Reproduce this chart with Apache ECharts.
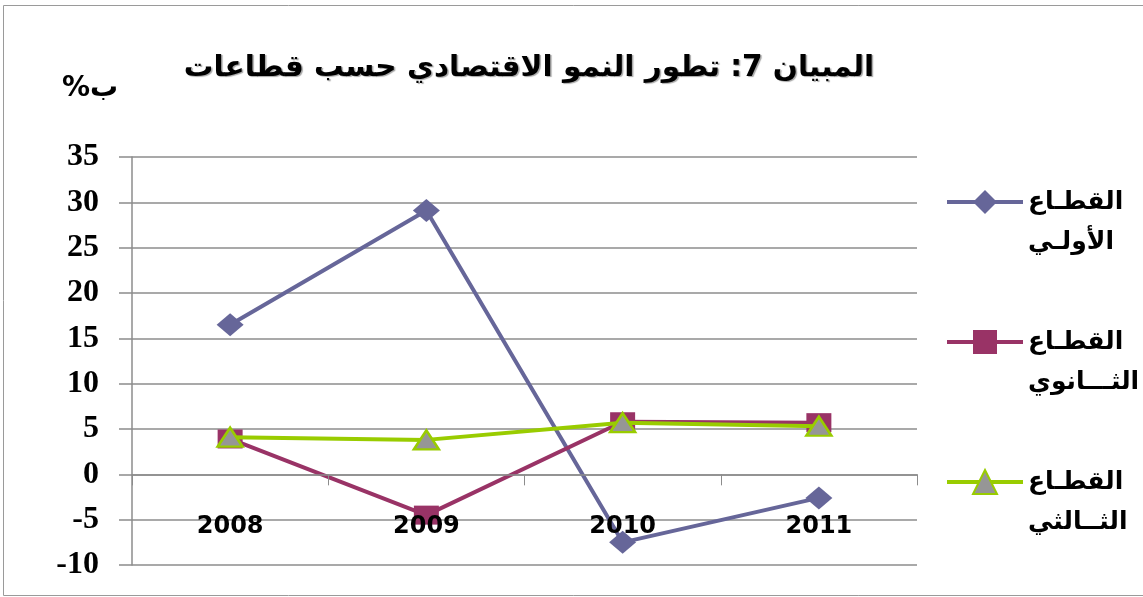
<!DOCTYPE html>
<html>
<head>
<meta charset="utf-8">
<script src="https://cdn.jsdelivr.net/npm/echarts@6/dist/echarts.min.js"></script>
<style>
html,body{margin:0;padding:0;background:#fff;}
#chart{width:1143px;height:597px;}
</style>
</head>
<body>
<div id="chart"></div>
<script>
const titleText = 'المبيان 7: تطور النمو الاقتصادي حسب قطاعات';
const yUnit = '%ب';
const categories = ['2008', '2009', '2010', '2011'];
const seriesNames = ['القطـاع الأولـي', 'القطـاع الثـــانوي', 'القطـاع الثــالثي'];
const primary = [16.5, 29.1, -7.5, -2.6];
const secondary = [3.9, -4.5, 5.8, 5.7];
const tertiary = [4.1, 3.8, 5.7, 5.3];
const yTicks = {min: -10, max: 35, interval: 5};

const chart = echarts.init(document.getElementById('chart'), null, {renderer: 'canvas'});
const gridColor = '#8c8c8c';
chart.setOption({
  backgroundColor: '#fff',
  animation: false,
  title: {
    text: titleText,
    left: 524, top: 48, textAlign: 'center',
    textStyle: {
      fontFamily: 'DejaVu Sans', fontWeight: 'bold', fontSize: 29.5, color: '#000',
      textShadowColor: 'rgba(0,0,0,0.35)', textShadowOffsetX: 1.5, textShadowOffsetY: 1.5, textShadowBlur: 1
    }
  },
  graphic: [
    {type: 'rect', shape: {x: 3.5, y: 5.5, width: 1160, height: 590}, style: {fill: 'none', stroke: '#9a9a9a', lineWidth: 1}, silent: true, z: -1}
  ],
  grid: {left: 132, right: 226, top: 157, bottom: 32, containLabel: false, outerBoundsMode: 'none'},
  legend: {
    orient: 'vertical', left: 940, top: 137, itemGap: 20,
    itemWidth: 76, itemHeight: 30,
    data: seriesNames,
    lineStyle: {width: 4},
    formatter: function (n) { return ' \n' + n.replace(' ', '\n'); },
    textStyle: {fontFamily: 'DejaVu Sans', fontWeight: 'bold', fontSize: 25, color: '#000', lineHeight: 40}
  },
  xAxis: {
    type: 'category', data: categories, boundaryGap: true, z: 10,
    axisLine: {onZero: true, lineStyle: {color: gridColor, width: 1.5}},
    axisTick: {show: true, inside: false, length: 11, lineStyle: {color: gridColor, width: 1}},
    axisLabel: {margin: -50, fontFamily: 'DejaVu Sans', fontWeight: 'bold', fontSize: 24, color: '#000'},
    splitLine: {show: false}
  },
  yAxis: {
    type: 'value', min: yTicks.min, max: yTicks.max, interval: yTicks.interval,
    name: yUnit, nameLocation: 'end', nameGap: 0,
    nameTextStyle: {fontFamily: 'DejaVu Sans', fontWeight: 'bold', fontSize: 28, color: '#000', align: 'center', padding: [0, 0, 54, -84]},
    axisLine: {show: true, lineStyle: {color: gridColor, width: 1.5}},
    axisTick: {show: true, length: 13, lineStyle: {color: gridColor, width: 1.5}},
    axisLabel: {margin: 33, fontFamily: 'Liberation Serif', fontWeight: 'bold', fontSize: 32, color: '#000'},
    splitLine: {show: true, lineStyle: {color: gridColor, width: 1.5}}
  },
  series: [
    {
      name: seriesNames[0], type: 'line', data: primary,
      symbol: 'diamond', symbolSize: [27, 23],
      lineStyle: {color: '#666699', width: 4},
      itemStyle: {color: '#666699'}, z: 2
    },
    {
      name: seriesNames[1], type: 'line', data: secondary,
      symbol: 'rect', symbolSize: [25, 19],
      lineStyle: {color: '#993366', width: 4},
      itemStyle: {color: '#993366'}, z: 3
    },
    {
      name: seriesNames[2], type: 'line', data: tertiary,
      symbol: 'triangle', symbolSize: [25, 19],
      lineStyle: {color: '#99cc00', width: 4},
      itemStyle: {color: '#969696', borderColor: '#99cc00', borderWidth: 2.5}, z: 4
    }
  ]
});
</script>
</body>
</html>
